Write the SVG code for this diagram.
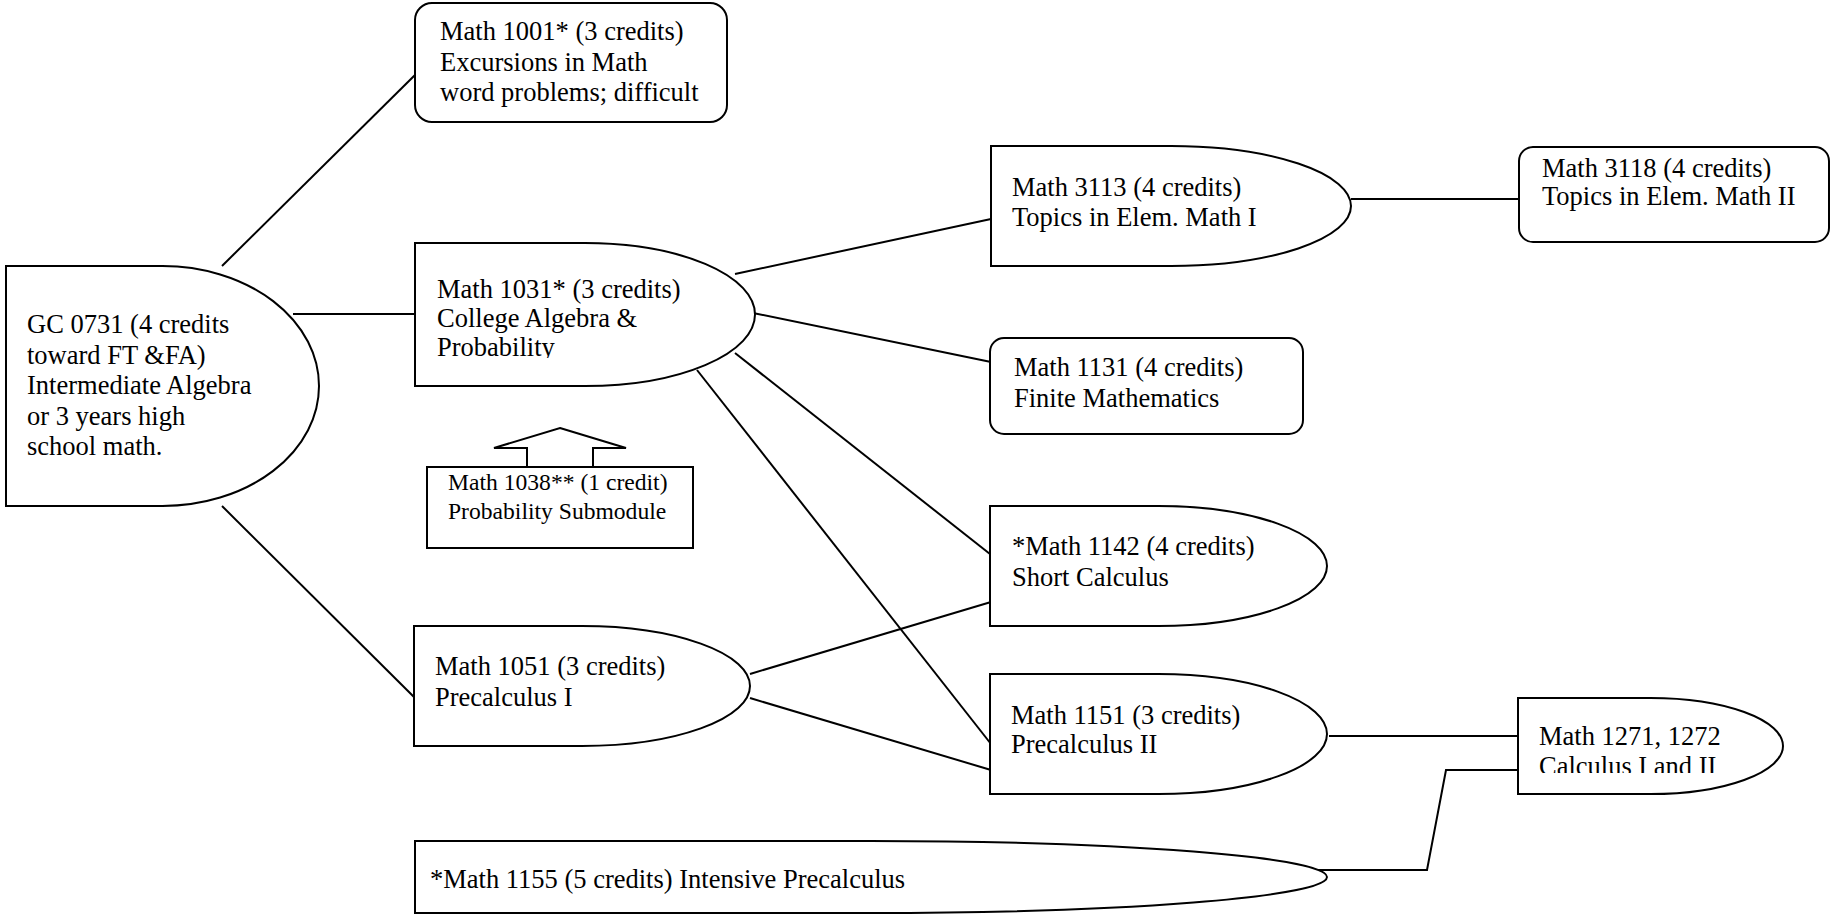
<svg xmlns="http://www.w3.org/2000/svg" width="1832" height="914" viewBox="0 0 1832 914">
<style>
.shape{fill:#ffffff;stroke:#000000;stroke-width:2}
.line{fill:none;stroke:#000000;stroke-width:2}
text{font-family:"Liberation Serif","Times New Roman",serif;font-size:26.5px;fill:#000000}
.small{font-size:23.6px}
</style>
<defs>
<clipPath id="clip1031"><rect x="415" y="243" width="340" height="115"/></clipPath>
<clipPath id="clip1271"><rect x="1518" y="698" width="265" height="75"/></clipPath>
</defs>
<rect width="1832" height="914" fill="#ffffff"/>
<g id="connectors">
<line class="line" x1="222" y1="266" x2="415" y2="75"/>
<line class="line" x1="293" y1="314" x2="415" y2="314"/>
<line class="line" x1="222" y1="506" x2="415" y2="698"/>
<line class="line" x1="735" y1="274" x2="991" y2="219"/>
<line class="line" x1="753" y1="313" x2="991" y2="362"/>
<line class="line" x1="735" y1="353" x2="990" y2="554"/>
<line class="line" x1="697" y1="370" x2="991" y2="744"/>
<line class="line" x1="750" y1="674" x2="991" y2="602"/>
<line class="line" x1="750" y1="698" x2="991" y2="770"/>
<line class="line" x1="1351" y1="199" x2="1519" y2="199"/>
<line class="line" x1="1329" y1="736" x2="1522" y2="736"/>
<polyline class="line" points="1317,870 1427,870 1446,770 1518,770"/>
<polygon class="shape" points="560,428 626,448 593,448 593,467 527,467 527,448 494,448"/>
</g>
<g id="gc0731">
<path class="shape" d="M6,266 H162.5 A156.5,120 0 0 1 162.5,506 H6 Z"/>
<text x="27" y="333">GC 0731 (4 credits</text>
<text x="27" y="363.5">toward FT &amp;FA)</text>
<text x="27" y="394">Intermediate Algebra</text>
<text x="27" y="424.5">or 3 years high</text>
<text x="27" y="455">school math.</text>
</g>
<g id="math1001">
<rect class="shape" x="415" y="3" width="312" height="119" rx="17" ry="17"/>
<text x="440" y="40">Math 1001* (3 credits)</text>
<text x="440" y="70.5">Excursions in Math</text>
<text x="440" y="101">word problems; difficult</text>
</g>
<g id="math1031">
<path class="shape" d="M415,243 H585 A170,71.5 0 0 1 585,386 H415 Z"/>
<g clip-path="url(#clip1031)">
<text x="437" y="298">Math 1031* (3 credits)</text>
<text x="437" y="327">College Algebra &amp;</text>
<text x="437" y="356">Probability</text>
</g>
</g>
<g id="math1038">
<rect class="shape" x="427" y="467" width="266" height="81"/>
<text class="small" x="448" y="490">Math 1038** (1 credit)</text>
<text class="small" x="448" y="519">Probability Submodule</text>
</g>
<g id="math1051">
<path class="shape" d="M414,626 H582 A168,60 0 0 1 582,746 H414 Z"/>
<text x="435" y="675">Math 1051 (3 credits)</text>
<text x="435" y="706">Precalculus I</text>
</g>
<g id="math1155">
<path class="shape" d="M415,841 H871 A456,36 0 0 1 871,913 H415 Z"/>
<text x="430" y="888">*Math 1155 (5 credits) Intensive Precalculus</text>
</g>
<g id="math3113">
<path class="shape" d="M991,146 H1171 A180,60 0 0 1 1171,266 H991 Z"/>
<text x="1012" y="196">Math 3113 (4 credits)</text>
<text x="1012" y="226">Topics in Elem. Math I</text>
</g>
<g id="math3118">
<rect class="shape" x="1519" y="147" width="310" height="95" rx="14" ry="14"/>
<text x="1542" y="177">Math 3118 (4 credits)</text>
<text x="1542" y="205">Topics in Elem. Math II</text>
</g>
<g id="math1131">
<rect class="shape" x="990" y="338" width="313" height="96" rx="14" ry="14"/>
<text x="1014" y="376">Math 1131 (4 credits)</text>
<text x="1014" y="407">Finite Mathematics</text>
</g>
<g id="math1142">
<path class="shape" d="M990,506 H1158.5 A168.5,60 0 0 1 1158.5,626 H990 Z"/>
<text x="1012" y="555">*Math 1142 (4 credits)</text>
<text x="1012" y="586">Short Calculus</text>
</g>
<g id="math1151">
<path class="shape" d="M990,674 H1158.5 A168.5,60 0 0 1 1158.5,794 H990 Z"/>
<text x="1011" y="724">Math 1151 (3 credits)</text>
<text x="1011" y="753">Precalculus II</text>
</g>
<g id="math1271">
<path class="shape" d="M1518,698 H1650.5 A132.5,48 0 0 1 1650.5,794 H1518 Z"/>
<g clip-path="url(#clip1271)">
<text x="1539" y="745">Math 1271, 1272</text>
<text x="1539" y="775">Calculus I and II</text>
</g>
</g>
</svg>
